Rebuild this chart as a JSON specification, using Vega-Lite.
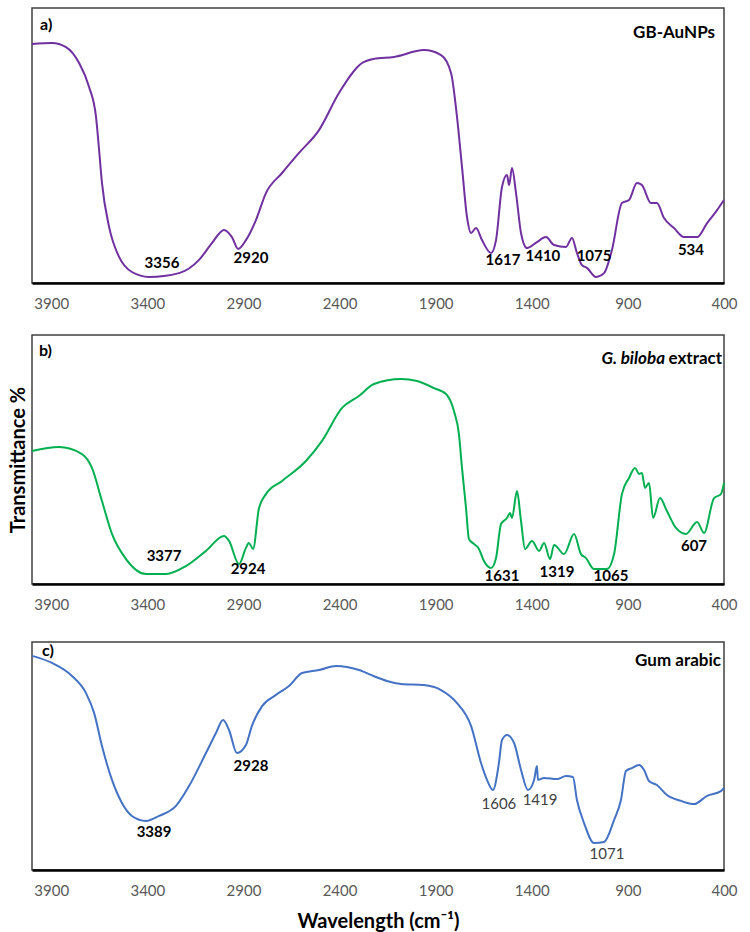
{
"$schema": "https://vega.github.io/schema/vega-lite/v6.json",
"padding": {"left": 7, "top": 7, "right": 10, "bottom": 0},
"spacing": 22,
"config": {"view": {"stroke": "#404040", "strokeWidth": 1.5}, "font": "Lato", "axis": {"grid": false}},
"datasets": {
"a": [{"w":4000,"t":86.9},{"w":3896,"t":87.3},{"w":3823,"t":85.8},{"w":3755,"t":80.0},{"w":3703,"t":71.3},{"w":3667,"t":60.4},{"w":3651,"t":48.4},{"w":3636,"t":36.4},{"w":3599,"t":20.4},{"w":3547,"t":9.5},{"w":3480,"t":4.0},{"w":3391,"t":2.2},{"w":3235,"t":3.6},{"w":3131,"t":8.4},{"w":3064,"t":14.5},{"w":3001,"t":19.3},{"w":2960,"t":16.7},{"w":2928,"t":12.4},{"w":2887,"t":15.6},{"w":2835,"t":22.9},{"w":2783,"t":32.7},{"w":2699,"t":40.0},{"w":2611,"t":47.3},{"w":2507,"t":55.6},{"w":2403,"t":69.1},{"w":2283,"t":80.0},{"w":2221,"t":81.5},{"w":2117,"t":82.2},{"w":1961,"t":84.7},{"w":1872,"t":82.9},{"w":1820,"t":76.4},{"w":1789,"t":60.4},{"w":1763,"t":42.2},{"w":1737,"t":24.0},{"w":1716,"t":18.2},{"w":1690,"t":20.0},{"w":1659,"t":15.6},{"w":1612,"t":10.9},{"w":1586,"t":15.6},{"w":1555,"t":34.9},{"w":1529,"t":39.3},{"w":1518,"t":35.6},{"w":1503,"t":41.8},{"w":1482,"t":32.7},{"w":1456,"t":18.2},{"w":1425,"t":12.7},{"w":1373,"t":14.9},{"w":1326,"t":16.7},{"w":1284,"t":13.8},{"w":1222,"t":13.1},{"w":1191,"t":16.4},{"w":1165,"t":10.9},{"w":1139,"t":6.5},{"w":1113,"t":5.5},{"w":1066,"t":2.2},{"w":1024,"t":3.6},{"w":983,"t":12.0},{"w":931,"t":29.1},{"w":894,"t":30.2},{"w":853,"t":36.4},{"w":827,"t":35.6},{"w":780,"t":29.1},{"w":749,"t":29.1},{"w":712,"t":23.6},{"w":660,"t":20.0},{"w":608,"t":16.7},{"w":540,"t":16.7},{"w":488,"t":21.8},{"w":436,"t":26.5},{"w":400,"t":30.2}],
"b": [{"w":4000,"t":53.4},{"w":3860,"t":55.0},{"w":3740,"t":52.2},{"w":3688,"t":46.6},{"w":3636,"t":33.3},{"w":3584,"t":20.1},{"w":3511,"t":10.0},{"w":3407,"t":4.0},{"w":3303,"t":4.0},{"w":3199,"t":7.2},{"w":3095,"t":13.3},{"w":3001,"t":19.3},{"w":2975,"t":17.3},{"w":2923,"t":8.0},{"w":2887,"t":14.5},{"w":2872,"t":16.5},{"w":2850,"t":14.1},{"w":2819,"t":30.5},{"w":2783,"t":36.1},{"w":2699,"t":41.4},{"w":2575,"t":49.4},{"w":2492,"t":57.4},{"w":2387,"t":70.7},{"w":2299,"t":75.5},{"w":2221,"t":80.3},{"w":2080,"t":82.3},{"w":1997,"t":81.5},{"w":1909,"t":78.7},{"w":1846,"t":76.3},{"w":1805,"t":69.5},{"w":1779,"t":60.2},{"w":1763,"t":46.6},{"w":1742,"t":30.5},{"w":1727,"t":18.1},{"w":1701,"t":16.1},{"w":1675,"t":14.1},{"w":1649,"t":9.2},{"w":1612,"t":6.4},{"w":1586,"t":10.4},{"w":1560,"t":24.1},{"w":1529,"t":26.5},{"w":1513,"t":28.5},{"w":1503,"t":26.5},{"w":1477,"t":37.3},{"w":1456,"t":25.3},{"w":1435,"t":14.1},{"w":1399,"t":17.3},{"w":1362,"t":13.3},{"w":1336,"t":16.5},{"w":1305,"t":10.0},{"w":1284,"t":15.7},{"w":1232,"t":12.0},{"w":1180,"t":20.1},{"w":1144,"t":12.0},{"w":1118,"t":10.4},{"w":1076,"t":6.0},{"w":1009,"t":6.0},{"w":972,"t":12.0},{"w":931,"t":36.1},{"w":894,"t":42.6},{"w":863,"t":46.6},{"w":842,"t":44.2},{"w":827,"t":44.6},{"w":811,"t":38.6},{"w":790,"t":40.6},{"w":769,"t":26.5},{"w":733,"t":34.5},{"w":697,"t":29.3},{"w":650,"t":22.5},{"w":598,"t":20.1},{"w":540,"t":24.9},{"w":504,"t":20.5},{"w":452,"t":34.5},{"w":416,"t":36.1},{"w":400,"t":40.6}],
"c": [{"w":4000,"t":93.9},{"w":3896,"t":90.8},{"w":3792,"t":85.1},{"w":3719,"t":77.6},{"w":3677,"t":68.9},{"w":3636,"t":54.4},{"w":3584,"t":39.5},{"w":3532,"t":29.4},{"w":3480,"t":23.7},{"w":3407,"t":21.5},{"w":3339,"t":23.7},{"w":3251,"t":28.1},{"w":3183,"t":36.8},{"w":3095,"t":51.3},{"w":3043,"t":60.1},{"w":3006,"t":65.8},{"w":2975,"t":61.4},{"w":2934,"t":51.3},{"w":2887,"t":54.8},{"w":2856,"t":63.2},{"w":2803,"t":71.9},{"w":2731,"t":76.8},{"w":2663,"t":80.7},{"w":2595,"t":86.4},{"w":2507,"t":87.7},{"w":2418,"t":89.5},{"w":2299,"t":87.7},{"w":2221,"t":85.0},{"w":2153,"t":82.9},{"w":2080,"t":81.6},{"w":1961,"t":81.1},{"w":1872,"t":78.9},{"w":1789,"t":73.2},{"w":1716,"t":63.2},{"w":1664,"t":46.9},{"w":1633,"t":39.5},{"w":1602,"t":35.1},{"w":1571,"t":46.9},{"w":1555,"t":57.0},{"w":1529,"t":59.2},{"w":1492,"t":55.7},{"w":1456,"t":43.9},{"w":1420,"t":35.1},{"w":1388,"t":39.5},{"w":1373,"t":45.6},{"w":1368,"t":39.5},{"w":1336,"t":40.4},{"w":1269,"t":39.9},{"w":1222,"t":41.2},{"w":1186,"t":40.8},{"w":1165,"t":30.7},{"w":1128,"t":20.6},{"w":1076,"t":11.8},{"w":1024,"t":12.3},{"w":972,"t":21.9},{"w":936,"t":30.7},{"w":910,"t":43.4},{"w":879,"t":44.7},{"w":842,"t":46.1},{"w":816,"t":43.9},{"w":790,"t":39.0},{"w":749,"t":37.3},{"w":697,"t":32.9},{"w":624,"t":30.3},{"w":556,"t":28.9},{"w":488,"t":32.5},{"w":416,"t":34.6},{"w":400,"t":36.0}],
"pa": [{"w":3324,"t":7.3,"s":"3356"},{"w":2861,"t":9.1,"s":"2920"},{"w":1550,"t":8.4,"s":"1617"},{"w":1342,"t":9.8,"s":"1410"},{"w":1076,"t":9.8,"s":"1075"},{"w":572,"t":12.0,"s":"534"}],
"pb": [{"w":3313,"t":11.2,"s":"3377"},{"w":2876,"t":6.0,"s":"2924"},{"w":1555,"t":3.2,"s":"1631"},{"w":1269,"t":4.8,"s":"1319"},{"w":988,"t":3.2,"s":"1065"},{"w":556,"t":15.3,"s":"607"}],
"pcb": [{"w":3365,"t":16.7,"s":"3389"},{"w":2861,"t":45.6,"s":"2928"}],
"pcr": [{"w":1571,"t":28.9,"s":"1606"},{"w":1357,"t":30.7,"s":"1419"},{"w":1009,"t":7.0,"s":"1071"}],
"la": [{"w":3958,"t":93.8,"s":"a)"}],
"lb": [{"w":3964,"t":93.6,"s":"b)"}],
"lc": [{"w":3948,"t":96.1,"s":"c)"}],
"na": [{"w":447,"t":90.9,"s":"GB-AuNPs"}],
"nb1": [{"w":707,"t":90.4,"s":"G. biloba"}],
"nb2": [{"w":410,"t":90.4,"s":"extract"}],
"nc": [{"w":416,"t":91.7,"s":"Gum arabic"}]
},
"vconcat": [
{"width": 692, "height": 275,
 "layer": [
  {"data": {"name": "a"}, "mark": {"type": "line", "color": "#7030A0", "strokeWidth": 2, "interpolate": "monotone"},
   "encoding": {
    "x": {"field": "w", "type": "quantitative", "scale": {"domain": [400, 4000], "reverse": true, "nice": false, "zero": false},
          "axis": {"values": [3900, 3400, 2900, 2400, 1900, 1400, 900, 400], "ticks": false, "labelFontSize": 15, "labelColor": "#595959", "labelPadding": 13, "domainColor": "#000000", "domainWidth": 2.5, "title": null, "labelFlush": false, "format": "d"}},
    "y": {"field": "t", "type": "quantitative", "scale": {"domain": [0, 100], "nice": false}, "axis": null}}},
  {"data": {"name": "pa"}, "mark": {"type": "text", "fontSize": 15, "fontWeight": "bold", "color": "#000000"},
   "encoding": {"x": {"field": "w", "type": "quantitative"}, "y": {"field": "t", "type": "quantitative"}, "text": {"field": "s"}}},
  {"data": {"name": "la"}, "mark": {"type": "text", "fontSize": 16, "fontWeight": "bold", "color": "#000000", "align": "left"},
   "encoding": {"x": {"field": "w", "type": "quantitative"}, "y": {"field": "t", "type": "quantitative"}, "text": {"field": "s"}}},
  {"data": {"name": "na"}, "mark": {"type": "text", "fontSize": 17, "fontWeight": "bold", "color": "#000000", "align": "right"},
   "encoding": {"x": {"field": "w", "type": "quantitative"}, "y": {"field": "t", "type": "quantitative"}, "text": {"field": "s"}}}
 ]},
{"width": 692, "height": 249,
 "layer": [
  {"data": {"name": "b"}, "mark": {"type": "line", "color": "#00B050", "strokeWidth": 2, "interpolate": "monotone"},
   "encoding": {
    "x": {"field": "w", "type": "quantitative", "scale": {"domain": [400, 4000], "reverse": true, "nice": false, "zero": false},
          "axis": {"values": [3900, 3400, 2900, 2400, 1900, 1400, 900, 400], "ticks": false, "labelFontSize": 15, "labelColor": "#595959", "labelPadding": 13, "domainColor": "#000000", "domainWidth": 2.5, "title": " ", "titleFontSize": 6, "titlePadding": 0, "labelFlush": false, "format": "d"}},
    "y": {"field": "t", "type": "quantitative", "scale": {"domain": [0, 100], "nice": false},
          "axis": {"title": "Transmittance %", "labels": false, "ticks": false, "domain": false, "titleFontSize": 20, "titleFontWeight": "bold", "titleColor": "#000000", "titlePadding": 4}}}},
  {"data": {"name": "pb"}, "mark": {"type": "text", "fontSize": 15, "fontWeight": "bold", "color": "#000000"},
   "encoding": {"x": {"field": "w", "type": "quantitative"}, "y": {"field": "t", "type": "quantitative"}, "text": {"field": "s"}}},
  {"data": {"name": "lb"}, "mark": {"type": "text", "fontSize": 16, "fontWeight": "bold", "color": "#000000", "align": "left"},
   "encoding": {"x": {"field": "w", "type": "quantitative"}, "y": {"field": "t", "type": "quantitative"}, "text": {"field": "s"}}},
  {"data": {"name": "nb1"}, "mark": {"type": "text", "fontSize": 17, "fontWeight": "bold", "fontStyle": "italic", "color": "#000000", "align": "right"},
   "encoding": {"x": {"field": "w", "type": "quantitative"}, "y": {"field": "t", "type": "quantitative"}, "text": {"field": "s"}}},
  {"data": {"name": "nb2"}, "mark": {"type": "text", "fontSize": 17, "fontWeight": "bold", "color": "#000000", "align": "right"},
   "encoding": {"x": {"field": "w", "type": "quantitative"}, "y": {"field": "t", "type": "quantitative"}, "text": {"field": "s"}}}
 ]},
{"width": 692, "height": 228,
 "layer": [
  {"data": {"name": "c"}, "mark": {"type": "line", "color": "#4472C4", "strokeWidth": 2, "interpolate": "monotone"},
   "encoding": {
    "x": {"field": "w", "type": "quantitative", "scale": {"domain": [400, 4000], "reverse": true, "nice": false, "zero": false},
          "axis": {"values": [3900, 3400, 2900, 2400, 1900, 1400, 900, 400], "ticks": false, "labelFontSize": 15, "labelColor": "#595959", "labelPadding": 13, "domainColor": "#000000", "domainWidth": 2.5, "title": "Wavelength (cm⁻¹)", "titleFontSize": 20, "titleFontWeight": "bold", "titleColor": "#000000", "titlePadding": 13, "labelFlush": false, "format": "d"}},
    "y": {"field": "t", "type": "quantitative", "scale": {"domain": [0, 100], "nice": false}, "axis": null}}},
  {"data": {"name": "pcb"}, "mark": {"type": "text", "fontSize": 15, "fontWeight": "bold", "color": "#000000"},
   "encoding": {"x": {"field": "w", "type": "quantitative"}, "y": {"field": "t", "type": "quantitative"}, "text": {"field": "s"}}},
  {"data": {"name": "pcr"}, "mark": {"type": "text", "fontSize": 15, "fontWeight": "normal", "color": "#404040"},
   "encoding": {"x": {"field": "w", "type": "quantitative"}, "y": {"field": "t", "type": "quantitative"}, "text": {"field": "s"}}},
  {"data": {"name": "lc"}, "mark": {"type": "text", "fontSize": 16, "fontWeight": "bold", "color": "#000000", "align": "left"},
   "encoding": {"x": {"field": "w", "type": "quantitative"}, "y": {"field": "t", "type": "quantitative"}, "text": {"field": "s"}}},
  {"data": {"name": "nc"}, "mark": {"type": "text", "fontSize": 17, "fontWeight": "bold", "color": "#000000", "align": "right"},
   "encoding": {"x": {"field": "w", "type": "quantitative"}, "y": {"field": "t", "type": "quantitative"}, "text": {"field": "s"}}}
 ]}
]
}
